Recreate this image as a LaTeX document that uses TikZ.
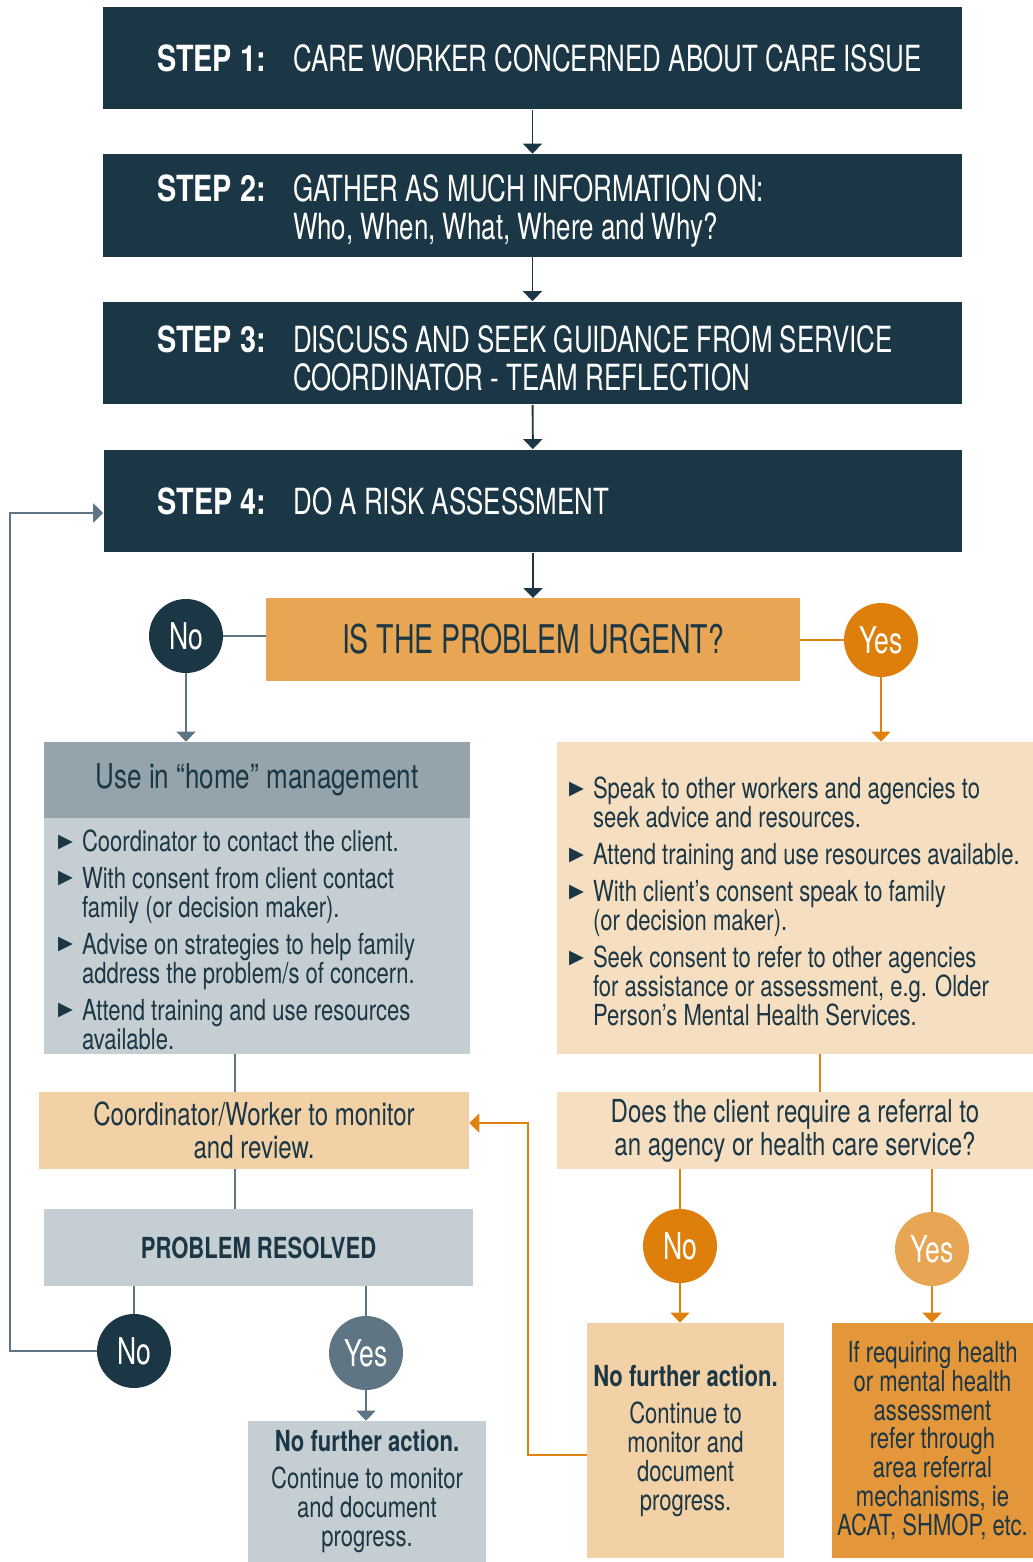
\documentclass[tikz,border=0pt]{standalone}
\usepackage{fontspec}
\setmainfont{TeX Gyre Heros}[FakeStretch=0.72, BoldFeatures={FakeStretch=0.8}]
\newfontfamily\bodyfam{TeX Gyre Heros}[FakeStretch=0.76]
\newfontfamily\symfont{DejaVu Sans}
\usetikzlibrary{arrows.meta,calc,positioning}

\definecolor{navy}{HTML}{1B3644}
\definecolor{slate}{HTML}{5F7584}
\definecolor{grayhead}{HTML}{95A3AA}
\definecolor{graylight}{HTML}{C5CED2}
\definecolor{urgentfill}{HTML}{E8A553}
\definecolor{dorange}{HTML}{DE7F0C}
\definecolor{lorange}{HTML}{E8A553}
\definecolor{peach}{HTML}{F6DFC1}
\definecolor{peachmid}{HTML}{F2D1A6}
\definecolor{healthfill}{HTML}{E3963A}
\definecolor{lineorange}{HTML}{E0820F}

\newcommand\stepfont{\fontsize{20.5}{21.6}\selectfont}
\newcommand\urgentfont{\fontsize{22.5}{24}\selectfont}
\newcommand\circfont{\fontsize{21}{22}\selectfont}
\newcommand\headfont{\bodyfam\fontsize{19.5}{21}\selectfont}
\newcommand\bodyfont{\bodyfam\fontsize{16.5}{16.5}\selectfont}
\newcommand\bigbodyfont{\bodyfam\fontsize{18}{18.8}\selectfont}
\newcommand\bul{\raisebox{2.5pt}{\symfont\fontsize{11}{11}\selectfont ▶}}
\newcommand\bitem[1]{\par\noindent\hangindent=0.48cm\hangafter=1\makebox[0.48cm][l]{\bul}#1\par}
% step text: label, then the description hanging beside it
\newcommand\stepline[3][0pt]{\raisebox{#1}[\height][\depth]{\parbox{15.5cm}{\raggedright\noindent
  \hangindent=2.96cm\hangafter=1\makebox[2.96cm][l]{\hspace*{0.24cm}\bfseries STEP #2:}#3\par}}}

\tikzset{
  stepbox/.style={fill=navy, text=white, inner sep=0pt, minimum width=17.18cm,
    minimum height=2.06cm, font=\stepfont},
  box/.style={inner sep=0pt, align=center, text=navy, font=\bodyfont},
  listbox/.style={inner ysep=0pt, align=flush left, text=navy, font=\bodyfont},
  circ/.style={circle, minimum size=1.48cm, inner sep=0pt, text=white, font=\circfont},
  navyarr/.style={draw=navy, line width=1.1pt, -{Triangle[width=0.38cm,length=0.2cm]}},
  slatearr/.style={draw=slate, line width=1.1pt, -{Triangle[width=0.38cm,length=0.2cm]}},
  slateline/.style={draw=slate, line width=1.1pt},
  orangearr/.style={draw=lineorange, line width=1.1pt, -{Triangle[width=0.38cm,length=0.2cm]}},
  orangeline/.style={draw=lineorange, line width=1.1pt},
}

\begin{document}
\begin{tikzpicture}[x=0.02cm,y=-0.02cm]
\useasboundingbox (0,0) rectangle (1033,1562);

% Drawing step boxes
\node[stepbox] (step1) at (532.5,58) {\stepline{1}{\mbox{CARE WORKER CONCERNED ABOUT CARE ISSUE}}};
\node[stepbox] (step2) at (532.5,205.5) {\stepline[-0.1cm]{2}{\mbox{GATHER AS MUCH INFORMATION ON:}\newline\mbox{Who, When, What, Where and Why?}}};
\node[stepbox] (step3) at (532.5,353) {\stepline[-0.1cm]{3}{\mbox{DISCUSS AND SEEK GUIDANCE FROM SERVICE}\newline\mbox{COORDINATOR - TEAM REFLECTION}}};
\node[stepbox] (step4) at (533,501) {\stepline{4}{\mbox{DO A RISK ASSESSMENT}}};

\draw[navyarr] (step1) -- (step2);
\draw[navyarr] (step2) -- (step3);
\draw[navyarr] (step3) -- (step4);
\draw[navyarr] (step4) -- (step4 |- 0,598);

% Drawing urgent question
\node[box, fill=urgentfill, minimum width=10.68cm, minimum height=1.66cm, font=\urgentfont] (urgent) at (533,639.5) {IS THE PROBLEM URGENT?};
\node[circ, fill=navy] (no1) at (186,636) {No};
\node[circ, fill=dorange] (yes1) at (881,640) {Yes};
\draw[slateline] (no1) -- (no1 -| urgent.west);
\draw[orangeline] (urgent.east |- yes1) -- (yes1);

% Drawing not urgent branch
\node[box, fill=grayhead, minimum width=8.52cm, minimum height=1.52cm, font=\headfont] (homehead) at (257,780) {Use in “home” management};
\node[listbox, fill=graylight, text width=7.96cm, inner xsep=0.28cm, minimum height=4.72cm] (home) at (257,936) {%
  \bitem{\mbox{Coordinator to contact the client.}}\vspace{4.5pt}
  \bitem{\mbox{With consent from client contact}\newline\mbox{family (or decision maker).}}\vspace{4.5pt}
  \bitem{\mbox{Advise on strategies to help family}\newline\mbox{address the problem/s of concern.}}\vspace{4.5pt}
  \bitem{\mbox{Attend training and use resources}\newline\mbox{available.}}};
\draw[slatearr] (no1) -- (no1 |- homehead.north);

\node[box, fill=peachmid, minimum width=8.6cm, minimum height=1.54cm, font=\bigbodyfont] (monitor) at (254,1130.5) {Coordinator/Worker to monitor\\and review.};
\node[box, fill=graylight, minimum width=8.58cm, minimum height=1.54cm, font=\bodyfont\bfseries] (resolved) at (258.5,1247.5) {PROBLEM RESOLVED};
\draw[slateline] (home.south -| 235,0) -- (monitor.north -| 235,0);
\draw[slateline] (monitor.south -| 235,0) -- (resolved.north -| 235,0);

\node[circ, fill=navy] (no2) at (134,1351) {No};
\node[circ, fill=slate] (yes2) at (366,1353) {Yes};
\draw[slateline] (no2 |- resolved.south) -- (no2);
\draw[slateline] (yes2 |- resolved.south) -- (yes2);

\node[box, fill=graylight, minimum width=4.76cm, minimum height=2.82cm] (nfaleft) at (367,1491.5) {\textbf{No further action.}\\[4.5pt]Continue to monitor\\and document\\progress.};
\draw[slatearr] (yes2) -- (yes2 |- nfaleft.north);
\draw[slatearr] (no2.west) -- ++(-87,0) |- ($(step4.west)+(0,12)$);

% Drawing urgent branch
\node[listbox, fill=peach, text width=9.04cm, inner xsep=0.24cm, minimum height=6.24cm] (urgentlist) at (795,898) {%
  \bitem{\mbox{Speak to other workers and agencies to}\newline\mbox{seek advice and resources.}}\vspace{4.5pt}
  \bitem{\mbox{Attend training and use resources available.}}\vspace{4.5pt}
  \bitem{\mbox{With client’s consent speak to family}\newline\mbox{(or decision maker).}}\vspace{4.5pt}
  \bitem{\mbox{Seek consent to refer to other agencies}\newline\mbox{for assistance or assessment, e.g. Older}\newline\mbox{Person’s Mental Health Services.}}};
\draw[orangearr] (yes1) -- (yes1 |- urgentlist.north);

\node[box, fill=peach, minimum width=9.52cm, minimum height=1.54cm, font=\bigbodyfont] (referral) at (795,1130.5) {Does the client require a referral to\\an agency or health care service?};
\draw[orangeline] (urgentlist.south -| 820,0) -- (referral.north -| 820,0);

\node[circ, fill=dorange] (no3) at (680,1246) {No};
\node[circ, fill=lorange] (yes3) at (932,1249) {Yes};
\draw[orangeline] (no3 |- referral.south) -- (no3);
\draw[orangeline] (yes3 |- referral.south) -- (yes3);

\node[box, fill=peachmid, minimum width=3.94cm, minimum height=4.7cm] (nfaright) at (685.5,1440.5) {\textbf{No further action.}\\[4.5pt]Continue to\\monitor and\\document\\progress.};
\node[box, fill=healthfill, minimum width=4.02cm, minimum height=4.7cm] (health) at (932.5,1440.5) {If requiring health\\or mental health\\assessment\\refer through\\area referral\\mechanisms, ie\\ACAT, SHMOP, etc.};
\draw[orangearr] (no3) -- (no3 |- nfaright.north);
\draw[orangearr] (yes3) -- (yes3 |- health.north);
\draw[orangearr] ($(nfaright.west)+(0,14.5)$) -- ++(-59,0) |- ($(monitor.east)+(0,-7.5)$);
\end{tikzpicture}
\end{document}
